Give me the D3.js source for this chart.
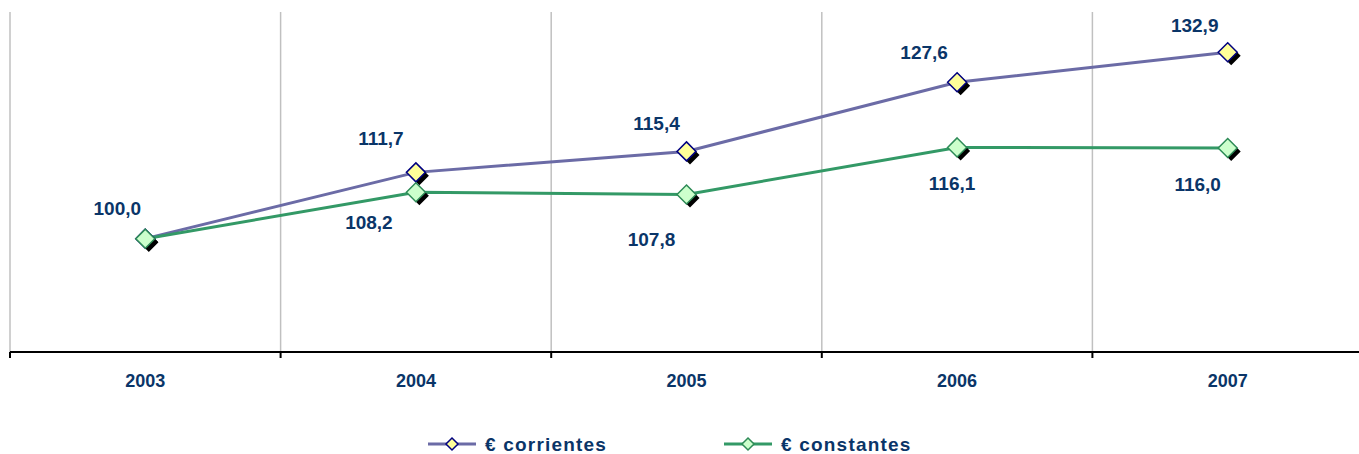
<!DOCTYPE html>
<html><head><meta charset="utf-8">
<script src="https://cdn.jsdelivr.net/npm/d3@7"></script>
<style>html,body{margin:0;padding:0;background:#fff;}svg{display:block;}</style>
</head><body>
<svg id="chart" width="1359" height="454"></svg>
<script>
const years = ["2003","2004","2005","2006","2007"];
const corrientes = [100.0, 111.7, 115.4, 127.6, 132.9];
const constantes = [100.0, 108.2, 107.8, 116.1, 116.0];
const seriesNames = ["€ corrientes", "€ constantes"];

// label placements (pixel offsets from the point), not data
const corrOffsets = [[-28,-31],[-35,-34],[-30,-28],[-33,-30],[-33,-27]];
const constOffsets = [null,[-47,30],[-35,45],[-5,36],[-30,36]];

const svg = d3.select("#chart");
const x = d3.scaleBand().domain(years).range([10, 1363]).padding(0);
const y = d3.scaleLinear().domain([80, 140]).range([352, 12]);
const cx = d => x(d) + x.bandwidth()/2;
const textColor = "#0a3568";
const font = "'Liberation Sans', Arial, sans-serif";

// gridlines at category boundaries
const bounds = years.map(d => x(d)).concat([x.range()[1]]);
svg.append("g").selectAll("line").data(bounds).join("line")
  .attr("x1", d => d).attr("x2", d => d)
  .attr("y1", y(140)).attr("y2", y(80))
  .attr("stroke", "#c0c0c0").attr("stroke-width", 1.5);

// x axis
const axis = svg.append("g").attr("transform", `translate(0,${y(80)})`);
axis.append("line").attr("x1", 10).attr("x2", 1359).attr("stroke", "#000").attr("stroke-width", 2);
axis.selectAll("line.tick").data(bounds).join("line").attr("class","tick")
  .attr("x1", d => d).attr("x2", d => d).attr("y1", 0).attr("y2", 6)
  .attr("stroke", "#000").attr("stroke-width", 2);
axis.selectAll("text").data(years).join("text")
  .attr("x", d => cx(d)).attr("y", 35)
  .attr("text-anchor", "middle")
  .attr("font-family", font).attr("font-weight", "bold").attr("font-size", 18)
  .attr("fill", textColor).text(d => d);

const series = [
  {name: seriesNames[0], values: corrientes, line: "#6b6ba6", fill: "#ffff99", stroke: "#000080", offs: corrOffsets},
  {name: seriesNames[1], values: constantes, line: "#339966", fill: "#ccffcc", stroke: "#2e8b57", offs: constOffsets}
];

const lineGen = d3.line().x((v,i) => cx(years[i])).y(v => y(v));
const diamond = (s) => `M0,${-s}L${s},0L0,${s}L${-s},0Z`;

series.forEach(s => {
  svg.append("path").attr("d", lineGen(s.values))
    .attr("fill", "none").attr("stroke", s.line).attr("stroke-width", 3);
});
series.forEach(s => {
  const g = svg.append("g");
  s.values.forEach((v,i) => {
    const px = cx(years[i]), py = y(v);
    g.append("path").attr("d", diamond(9.5)).attr("transform", `translate(${px+3.5},${py+3.5})`).attr("fill", "#000");
    g.append("path").attr("d", diamond(9.5)).attr("transform", `translate(${px},${py})`)
      .attr("fill", s.fill).attr("stroke", s.stroke).attr("stroke-width", 1.5);
  });
});
series.forEach(s => {
  s.values.forEach((v,i) => {
    const o = s.offs[i];
    if (!o) return;
    svg.append("text").attr("x", cx(years[i]) + o[0]).attr("y", y(v) + o[1] + 7)
      .attr("text-anchor", "middle")
      .attr("font-family", font).attr("font-weight", "bold").attr("font-size", 19)
      .attr("fill", textColor).text(d3.format(".1f")(v).replace(".", ","));
  });
});

// legend
const legendX = [428, 724];
series.forEach((s, i) => {
  const g = svg.append("g").attr("transform", `translate(${legendX[i]},444)`);
  g.append("line").attr("x1", 0).attr("x2", 48).attr("stroke", s.line).attr("stroke-width", 3);
  g.append("path").attr("d", diamond(6)).attr("transform", "translate(24,0)")
    .attr("fill", s.fill).attr("stroke", s.stroke).attr("stroke-width", 1.5);
  g.append("text").attr("x", 57).attr("y", 7)
    .attr("font-family", font).attr("font-weight", "bold").attr("font-size", 19)
    .attr("letter-spacing", 1.2)
    .attr("fill", textColor).text(s.name);
});
</script>
</body></html>
